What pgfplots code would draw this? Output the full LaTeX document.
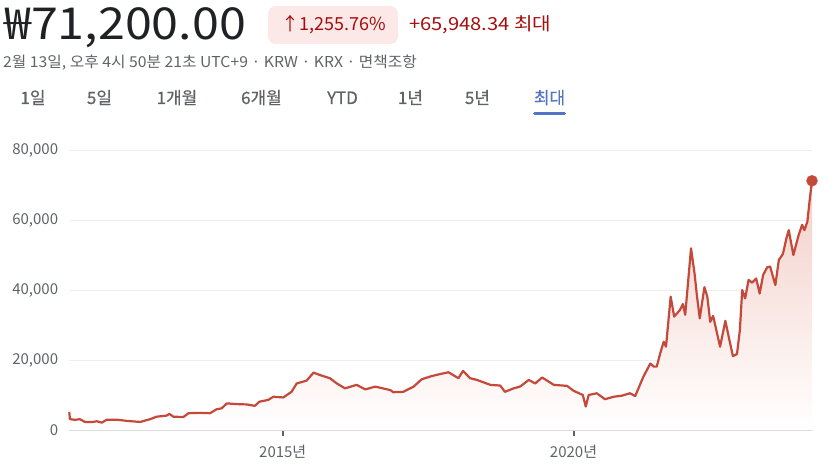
\documentclass[border=0pt]{standalone}
\usepackage{fontspec}
\setmainfont{Noto Sans CJK KR}
\newfontfamily\tabfont[FakeBold=0.5]{Noto Sans CJK KR}
\usepackage{graphicx}
\usepackage{pgfplots}
\usepackage{pgfplotstable}
\pgfplotsset{compat=1.18}

\definecolor{linec}{HTML}{C5493A}
\definecolor{fillc}{HTML}{F3CFC8}
\definecolor{gridc}{HTML}{ECEEF0}
\definecolor{axisc}{HTML}{DADCE0}
\definecolor{tickc}{HTML}{5F6368}
\definecolor{labelc}{HTML}{5F6368}
\definecolor{darkc}{HTML}{202124}
\definecolor{redc}{HTML}{A50E0E}
\definecolor{badgec}{HTML}{FCE8E6}
\definecolor{bluec}{HTML}{5373C4}

% price, KRW
\pgfplotstableread{
x y
2011.33 5200
2011.34 3100
2011.43 2900
2011.51 3100
2011.60 2300
2011.74 2300
2011.80 2500
2011.89 2100
2011.97 2900
2012.17 2900
2012.32 2600
2012.55 2300
2012.72 3100
2012.83 3800
2013.00 4100
2013.05 4600
2013.12 3800
2013.29 3700
2013.38 4800
2013.58 4900
2013.75 4800
2013.86 5900
2013.95 6200
2014.04 7600
2014.21 7400
2014.38 7300
2014.52 6900
2014.60 8100
2014.75 8600
2014.84 9500
2015.01 9300
2015.15 10900
2015.24 13300
2015.41 14100
2015.53 16400
2015.64 15700
2015.81 14800
2015.93 13300
2016.07 11900
2016.27 12900
2016.42 11600
2016.59 12400
2016.85 11400
2016.90 10800
2017.07 10900
2017.25 12400
2017.39 14500
2017.56 15400
2017.71 16000
2017.85 16500
2018.02 14800
2018.10 16900
2018.22 14800
2018.34 14300
2018.57 12900
2018.74 12700
2018.82 10900
2018.97 11900
2019.08 12400
2019.23 14300
2019.34 13300
2019.46 15000
2019.66 12900
2019.89 12600
2020.00 11200
2020.16 10000
2020.21 6700
2020.26 10000
2020.40 10500
2020.54 8800
2020.69 9500
2020.83 9800
2020.97 10500
2021.06 9700
2021.20 15200
2021.32 19000
2021.38 18100
2021.43 18100
2021.49 21900
2021.55 25200
2021.59 23800
2021.67 38100
2021.73 32400
2021.83 34300
2021.88 36000
2021.92 32900
2022.02 51900
2022.08 44800
2022.12 38600
2022.17 31900
2022.25 40800
2022.30 38100
2022.35 30900
2022.40 32600
2022.48 26700
2022.52 23800
2022.61 31200
2022.68 25700
2022.74 21100
2022.81 21700
2022.86 28600
2022.90 40000
2022.95 37600
2023.01 42900
2023.07 42100
2023.14 43300
2023.20 39000
2023.26 44300
2023.33 46500
2023.38 46700
2023.47 41400
2023.53 48600
2023.60 50300
2023.66 54800
2023.70 57100
2023.78 50000
2023.87 55700
2023.93 58600
2023.97 57100
2024.02 59500
2024.06 65700
2024.10 71200
}\price

\begin{document}
\begin{tikzpicture}[x=1pt,y=1pt]
\useasboundingbox (0,0) rectangle (828,465);

\begin{axis}[
    at={(69.3pt,35pt)}, anchor=south west,
    scale only axis, width=742.7pt, height=280pt,
    xmin=2011.33, xmax=2024.10, ymin=0, ymax=80000,
    axis x line*=bottom, axis y line*=left,
    x axis line style={draw=axisc, line width=1.2pt},
    y axis line style={draw=none},
    xtick={2015,2020}, xticklabels={2015년,2020년},
    ytick={0,20000,40000,60000,80000},
    ymajorgrids, grid style={draw=gridc, line width=0.8pt},
    tick align=outside, major tick length=6pt,
    xtick style={draw=tickc, line width=2pt},
    ytick style={draw=none},
    scaled y ticks=false,
    /pgf/number format/1000 sep={,},
    /pgf/number format/assume math mode=true,
    ticklabel style={font=\fontsize{15}{15}\selectfont, text=labelc},
    yticklabel style={anchor=east, inner sep=0pt, xshift=-5pt},
    xticklabel style={anchor=base, yshift=-22pt},
    clip=false,
  ]
  \addplot[draw=none, top color=fillc, bottom color=white] table[x=x,y=y] {\price} \closedcycle;
  \addplot[linec, line width=2.2pt, line join=round] table[x=x,y=y] {\price};
  \addplot[only marks, mark=*, mark size=5.5pt, color=linec] coordinates {(2024.10,71200)};
\end{axis}

% header
\node[anchor=base west, inner sep=0pt, text=darkc, font=\fontsize{44}{44}\selectfont] at (4,425) {\scalebox{1.1}[1]{₩71,200.00}};
\fill[badgec, rounded corners=8pt] (268,421) rectangle (398,459);
\node[anchor=base west, inner sep=0pt, text=redc, font=\fontsize{18}{18}\selectfont] at (281,434) {↑1,255.76\%};
\node[anchor=base west, inner sep=0pt, text=redc, font=\fontsize{18}{18}\selectfont] at (409,434) {\scalebox{1.12}[1]{+65,948.34 최대}};
\node[anchor=base west, inner sep=0pt, text=labelc, font=\fontsize{15}{15}\selectfont] at (3,397) {\scalebox{1.05}[1]{2월 13일, 오후 4시 50분 21초 UTC+9 · KRW · KRX · 면책조항}};

% range tabs
\begin{scope}[every node/.style={anchor=base, inner sep=0pt, text=labelc, font=\tabfont\fontsize{17}{17}\selectfont}]
  \node at (33,361) {1일};
  \node at (99.5,361) {5일};
  \node at (177,361) {1개월};
  \node at (261.5,361) {6개월};
  \node at (342.5,361) {YTD};
  \node at (410.5,361) {1년};
  \node at (477.5,361) {5년};
  \node[text=bluec] at (549.5,361) {최대};
\end{scope}
\draw[bluec, line width=3pt, line cap=round] (534.5,351.5) -- (564.5,351.5);
\end{tikzpicture}
\end{document}
